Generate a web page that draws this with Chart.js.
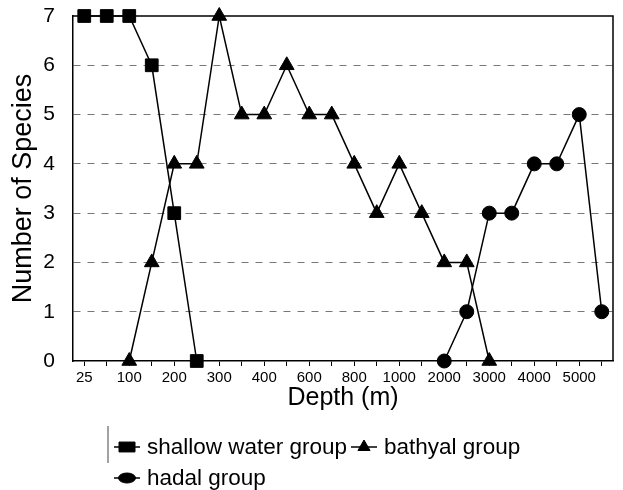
<!DOCTYPE html>
<html>
<head>
<meta charset="utf-8">
<script src="https://cdn.jsdelivr.net/npm/chart.js@4/dist/chart.umd.min.js"></script>
<style>
html,body{margin:0;padding:0;background:#fff;}
#wrap{position:relative;width:623px;height:490px;}
</style>
</head>
<body>
<div id="wrap"><canvas id="c" width="623" height="490"></canvas></div>
<script>
// Depth categories (m)
const depths = ['25','50','100','150','200','250','300','350','400','500','600','700','800','900','1000','1500','2000','2500','3000','3500','4000','4500','5000','5500'];
// Labels shown on the axis (blank = tick only)
const tickLabels = ['25','','100','','200','','300','','400','','600','','800','','1000','','2000','','3000','','4000','','5000',''];
const shallow = [7,7,7,6,3,0,null,null,null,null,null,null,null,null,null,null,null,null,null,null,null,null,null,null];
const bathyal = [null,null,0,2,4,4,7,5,5,6,5,5,4,3,4,3,2,2,0,null,null,null,null,null];
const hadal   = [null,null,null,null,null,null,null,null,null,null,null,null,null,null,null,null,0,1,3,3,4,4,5,1];
const seriesNames = ['shallow water group','bathyal group','hadal group'];
const yTicks = [0,1,2,3,4,5,6,7];

const FONT = "'Liberation Sans', Arial, sans-serif";

const frame = {
  id:'frame',
  beforeDatasetsDraw(chart){
    const ctx = chart.ctx, a = chart.chartArea;
    ctx.save();
    ctx.strokeStyle = '#000'; ctx.lineWidth = 1.5;
    ctx.beginPath();
    ctx.moveTo(a.left, a.top); ctx.lineTo(a.right, a.top); ctx.lineTo(a.right, a.bottom);
    ctx.stroke();
    ctx.restore();
  },
  afterDraw(chart){
    const ctx = chart.ctx;
    ctx.save();
    // legend
    const items = [
      {i:0, x:114, y:447},
      {i:1, x:351, y:447},
      {i:2, x:114, y:478}
    ];
    ctx.beginPath(); ctx.lineWidth = 1; ctx.strokeStyle = '#444';
    ctx.moveTo(108, 426); ctx.lineTo(108, 463); ctx.stroke();
    ctx.font = '22.5px ' + FONT; ctx.textBaseline = 'middle';
    items.forEach(it => {
      const d = chart.data.datasets[it.i];
      ctx.beginPath(); ctx.lineWidth = 1.5; ctx.strokeStyle = '#000';
      ctx.moveTo(it.x, it.y); ctx.lineTo(it.x + 26, it.y); ctx.stroke();
      ctx.fillStyle = '#000'; ctx.strokeStyle = '#000'; ctx.lineWidth = 1;
      const opts = {pointStyle: d.pointStyle, radius: d.legendRadius, borderWidth: 1, rotation: 0};
      if (Chart.helpers && Chart.helpers.drawPointLegend) {
        Chart.helpers.drawPointLegend(ctx, opts, it.x + 13, it.y, d.legendW);
      } else {
        Chart.helpers.drawPoint(ctx, opts, it.x + 13, it.y);
      }
      ctx.fillStyle = '#000';
      ctx.fillText(d.label, it.x + 33, it.y + 1);
    });
    ctx.restore();
  }
};

function ds(label, data, style, r, lr, lw){
  return {label, data, pointStyle: style, pointRadius: r, pointHoverRadius: r, legendRadius: lr, legendW: lw,
    borderColor:'#000', backgroundColor:'#000', pointBackgroundColor:'#000', pointBorderColor:'#000',
    borderWidth:1.5, pointBorderWidth:1, tension:0, spanGaps:false, clip:false};
}

new Chart(document.getElementById('c'), {
  type:'line',
  data:{
    labels: depths,
    datasets:[
      ds(seriesNames[0], shallow, 'rect', 9, 7, 16),
      ds(seriesNames[1], bathyal, 'triangle', 8.5, 7, undefined),
      ds(seriesNames[2], hadal, 'circle', 7, 5, 17)
    ]
  },
  options:{
    responsive:false, animation:false,
    layout:{padding:{left:0, right:3, top:16, bottom:77}},
    plugins:{legend:{display:false}, tooltip:{enabled:false}},
    scales:{
      x:{
        type:'category', offset:true,
        grid:{display:true, drawOnChartArea:false, drawTicks:true, tickLength:5, tickColor:'#000', tickWidth:1},
        border:{display:true, color:'#000', width:1.5},
        ticks:{autoSkip:false, maxRotation:0, padding:3, color:'#000', font:{family:FONT, size:15},
          callback:(v,i)=>tickLabels[i]},
        title:{display:true, text:'Depth (m)', color:'#000', font:{family:FONT, size:25}, padding:{top:0,bottom:0}},
        afterFit(s){ s.height = 52; s.paddingLeft = 0; s.paddingRight = 0; }
      },
      y:{
        min:0, max:7,
        afterBuildTicks(s){ s.ticks = yTicks.map(v=>({value:v})); },
        grid:{drawTicks:false, lineWidth:1, color:(c)=> (c.tick && (c.tick.value===0 || c.tick.value===7)) ? 'rgba(0,0,0,0)' : '#777'},
        border:{display:true, color:'#000', width:1.5, dash:[7,7]},
        ticks:{padding:18, color:'#000', font:{family:FONT, size:21}},
        title:{display:true, text:'Number of Species', color:'#000', font:{family:FONT, size:27}, padding:{top:7,bottom:0}},
        afterFit(s){ s.width = 73; s.paddingTop = 0; s.paddingBottom = 0; }
      }
    }
  },
  plugins:[frame]
});
</script>
</body>
</html>
